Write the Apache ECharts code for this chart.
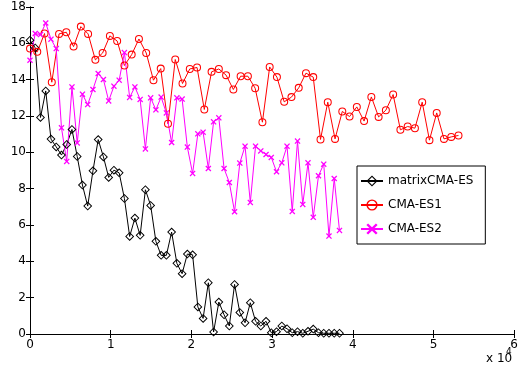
<!DOCTYPE html>
<html>
<head>
<meta charset="utf-8">
<script src="https://cdn.jsdelivr.net/npm/echarts@6/dist/echarts.min.js"></script>
<style>html,body{margin:0;padding:0;background:#fff}#c{width:521px;height:369px}</style>
</head>
<body>
<div id="c"></div>
<script>
// x positions (function evaluations)
var xMatrix = [0,650,1300,1950,2600,3250,3900,4550,5200,5850,6500,7150,7800,8450,9100,9750,10400,11050,11700,12350,13000,13650,14300,14950,15600,16250,16900,17550,18200,18850,19500,20150,20800,21450,22100,22750,23400,24050,24700,25350,26000,26650,27300,27950,28600,29250,29900,30550,31200,31850,32500,33150,33800,34450,35100,35750,36400,37050,37700,38350];
var yMatrix = [16.17,15.75,11.92,13.38,10.73,10.3,9.85,10.43,11.26,9.77,8.2,7.04,8.98,10.7,9.75,8.62,9.02,8.87,7.46,5.37,6.38,5.43,7.94,7.08,5.1,4.33,4.33,5.61,3.89,3.32,4.4,4.36,1.49,0.86,2.82,0.11,1.76,1.06,0.44,2.73,1.19,0.62,1.72,0.7,0.44,0.7,0.07,0.13,0.44,0.29,0.07,0.13,0.04,0.15,0.27,0.07,0.04,0.04,0.04,0.04];
var xES1 = [0,900,1800,2700,3600,4500,5400,6300,7200,8100,9000,9900,10800,11700,12600,13500,14400,15300,16200,17100,18000,18900,19800,20700,21600,22500,23400,24300,25200,26100,27000,27900,28800,29700,30600,31500,32400,33300,34200,35100,36000,36900,37800,38700,39600,40500,41400,42300,43200,44100,45000,45900,46800,47700,48600,49500,50400,51300,52200,53100];
var yES1 = [15.71,15.53,16.54,13.86,16.52,16.61,15.82,16.92,16.52,15.09,15.47,16.41,16.13,14.78,15.38,16.24,15.47,13.97,14.61,11.57,15.11,13.79,14.59,14.67,12.36,14.43,14.59,14.25,13.46,14.19,14.19,13.53,11.66,14.7,14.14,12.78,13.04,13.55,14.36,14.14,10.71,12.76,10.74,12.25,11.97,12.5,11.72,13.05,11.95,12.32,13.18,11.24,11.42,11.33,12.76,10.67,12.17,10.74,10.85,10.93];
var xES2 = [0,650,1300,1950,2600,3250,3900,4550,5200,5850,6500,7150,7800,8450,9100,9750,10400,11050,11700,12350,13000,13650,14300,14950,15600,16250,16900,17550,18200,18850,19500,20150,20800,21450,22100,22750,23400,24050,24700,25350,26000,26650,27300,27950,28600,29250,29900,30550,31200,31850,32500,33150,33800,34450,35100,35750,36400,37050,37700,38350];
var yES2 = [15.07,16.54,16.48,17.12,16.23,15.71,11.35,9.5,13.6,10.52,13.2,12.63,13.46,14.34,14.01,12.83,13.64,13.97,15.49,13.02,13.6,12.91,10.19,13.0,12.34,13.04,12.17,10.54,13.0,12.93,10.29,8.84,11.02,11.11,9.11,11.68,11.9,9.11,8.34,6.73,9.41,10.34,7.24,10.34,10.08,9.88,9.72,8.93,9.42,10.34,6.75,10.62,7.13,9.42,6.42,8.71,9.35,5.39,8.56,5.7];
var seriesNames = ['matrixCMA-ES','CMA-ES1','CMA-ES2'];
var xTickLabels = ['0','1','2','3','4','5','6'];
var yTickLabels = ['0','2','4','6','8','10','12','14','16','18'];

function pairs(xs, ys){ return xs.map(function(x,i){ return [x, ys[i]]; }); }

var font = 'DejaVu Sans';
var chart = echarts.init(document.getElementById('c'), null, {renderer:'canvas'});
var axisLine = {show:true, lineStyle:{color:'#000', width:1}};
var tick = {show:true, inside:true, length:4, lineStyle:{color:'#000'}};
// hollow marker outlines drawn as filled rings (transparent inside, like MATLAB markers)
var diamondRing = 'path://M5,0L10,5L5,10L0,5Z M5,1.5L1.5,5L5,8.5L8.5,5Z';
var circleRing = 'path://M5,0A5,5 0 1,1 5,10A5,5 0 1,1 5,0Z M5,1.3A3.7,3.7 0 1,0 5,8.7A3.7,3.7 0 1,0 5,1.3Z';
var xMark = 'path://M0,1.5L1.5,0L5,3.5L8.5,0L10,1.5L6.5,5L10,8.5L8.5,10L5,6.5L1.5,10L0,8.5L3.5,5Z';
chart.setOption({
  animation:false,
  backgroundColor:'#fff',
  grid:{left:30, right:6, top:7, bottom:35, containLabel:false},
  xAxis:[
    {type:'value', min:0, max:60000, interval:10000, position:'bottom',
     axisLine:axisLine, axisTick:tick, splitLine:{show:false},
     axisLabel:{margin:5, color:'#000', fontFamily:font, fontSize:12,
       formatter:function(v){ return xTickLabels[Math.round(v/10000)]; }}},
    {type:'value', min:0, max:60000, interval:10000, position:'top',
     axisLine:axisLine, axisTick:tick, splitLine:{show:false}, axisLabel:{show:false}}
  ],
  yAxis:[
    {type:'value', min:0, max:18, interval:2, position:'left',
     axisLine:axisLine, axisTick:tick, splitLine:{show:false},
     axisLabel:{margin:4, color:'#000', fontFamily:font, fontSize:12,
       formatter:function(v){ return yTickLabels[Math.round(v/2)]; }}},
    {type:'value', min:0, max:18, interval:2, position:'right',
     axisLine:axisLine, axisTick:tick, splitLine:{show:false}, axisLabel:{show:false}}
  ],
  legend:{
    orient:'vertical', left:357, top:166,
    data:seriesNames,
    backgroundColor:'#fff', borderColor:'#000', borderWidth:1,
    padding:[9,12,9,3], itemGap:12, itemWidth:22, itemHeight:14,
    textStyle:{color:'#000', fontFamily:font, fontSize:12}
  },
  series:[
    {name:seriesNames[0], type:'line', data:pairs(xMatrix,yMatrix),
     symbol:diamondRing, symbolSize:9, showAllSymbol:true,
     lineStyle:{color:'#000', width:1},
     itemStyle:{color:'#000', borderWidth:0}},
    {name:seriesNames[1], type:'line', data:pairs(xES1,yES1),
     symbol:circleRing, symbolSize:8, showAllSymbol:true,
     lineStyle:{color:'#ff0000', width:1},
     itemStyle:{color:'#ff0000', borderWidth:0}},
    {name:seriesNames[2], type:'line', data:pairs(xES2,yES2),
     symbol:xMark, symbolSize:6, showAllSymbol:true,
     lineStyle:{color:'#ff00ff', width:1},
     itemStyle:{color:'#ff00ff', borderWidth:0}}
  ],
  graphic:[
    {type:'text', left:486, top:353,
     style:{text:'x 10', fill:'#000', font:'12px "DejaVu Sans"'}},
    {type:'text', left:506, top:347,
     style:{text:'4', fill:'#000', font:'9px "DejaVu Sans"'}}
  ]
});
</script>
</body>
</html>
